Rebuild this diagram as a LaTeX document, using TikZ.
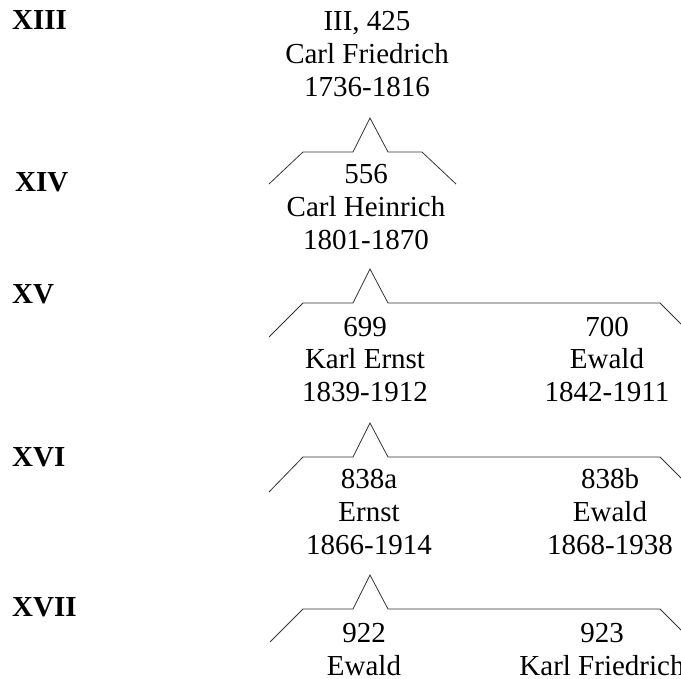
\documentclass[tikz,border=0pt]{standalone}
\usepackage{fontspec}
\setmainfont{Liberation Serif}
\usepackage{xcolor}

\tikzset{
  person/.style={align=center, anchor=base, inner sep=0pt,
    font=\fontsize{29}{33}\selectfont},
  gen/.style={anchor=base west, inner sep=0pt,
    font=\fontsize{29}{30}\selectfont\bfseries},
  bracket/.style={draw=black!80, line width=0.8pt, line join=miter}
}

\begin{document}
\begin{tikzpicture}[x=1pt, y=-1pt]
  \useasboundingbox (0,0) rectangle (681,679);

  % Generations
  \node[gen] (g13) at (12,30) {XIII};
  \node[gen] (g14) at (15,192) {XIV};
  \node[gen] (g15) at (12,304) {XV};
  \node[gen] (g16) at (12,466) {XVI};
  \node[gen] (g17) at (12,616) {XVII};

  % Persons (anchored at the baseline of the last line)
  \node[person] (p425) at (367,97) {III, 425\\Carl Friedrich\\1736-1816};
  \node[person] (p556) at (366,250) {556\\Carl Heinrich\\1801-1870};
  \node[person] (p699) at (365,402) {699\\Karl Ernst\\1839-1912};
  \node[person] (p700) at (607,402) {700\\Ewald\\1842-1911};
  \node[person] (p838a) at (369,554) {838a\\Ernst\\1866-1914};
  \node[person] (p838b) at (610,554) {838b\\Ewald\\1868-1938};
  \node[person] (p922) at (364,675) {922\\Ewald};
  \node[person] (p923) at (602,675) {923\\Karl Friedrich};

  % Brackets
  \coordinate (s1) at (370,118);
  \coordinate (a1) at (269,184);
  \coordinate (b1) at (456,184);
  \draw[bracket] (a1) -- ++(34,-32) -- ++(50,0) -- (s1) -- ++(18,34)
    -- ++(34,0) -- (b1);

  \coordinate (s2) at (370,269);
  \coordinate (a2) at (269,337);
  \coordinate (b2) at (684,327);
  \draw[bracket] (a2) -- ++(34,-34) -- ++(50,0) -- (s2) -- ++(18,34)
    -- ++(272,0) -- (b2);

  \coordinate (s3) at (370,423);
  \coordinate (a3) at (269,492);
  \coordinate (b3) at (684,481);
  \draw[bracket] (a3) -- ++(34,-35) -- ++(50,0) -- (s3) -- ++(18,34)
    -- ++(272,0) -- (b3);

  \coordinate (s4) at (370,575);
  \coordinate (a4) at (270,642);
  \coordinate (b4) at (684,633);
  \draw[bracket] (a4) -- ++(33,-33) -- ++(50,0) -- (s4) -- ++(18,34)
    -- ++(272,0) -- (b4);
\end{tikzpicture}
\end{document}
